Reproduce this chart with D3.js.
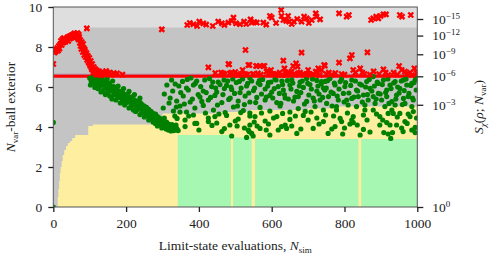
<!DOCTYPE html>
<html><head><meta charset="utf-8">
<script src="https://cdn.jsdelivr.net/npm/d3@7"></script>
<style>
body{margin:0;background:#fff;}
svg text{font-family:"Liberation Serif","Times New Roman",serif;fill:#222;}
</style></head>
<body><svg id="chart" width="490" height="258"></svg>
<script>
// ---- axis data ----
const xTicks = [0, 200, 400, 600, 800, 1000];
const yTicks = [0, 2, 4, 6, 8, 10];
const rightTickExps = [0, -3, -6, -9, -12, -15];
const nVar = 8;            // dimension of the chi distribution
const thresholdExp = -6;   // red threshold line at S = 1e-6

// ---- background regions ----
const grayTopN = [0, 5, 15, 25, 40, 55, 70, 92, 1000];
const grayTopV = [7.95, 8.05, 8.3, 8.45, 8.6, 8.72, 8.8, 8.98, 8.98];
const yellowN = [0, 11, 12, 14, 16, 18, 20, 23, 26, 30, 35, 40, 46, 52, 60, 96, 109, 300, 450, 540, 700, 760, 1000];
const yellowTop = [0, 0, 0.5, 0.9, 1.3, 1.7, 2.0, 2.3, 2.6, 2.85, 3.05, 3.2, 3.3, 3.45, 3.6, 4.05, 4.13, 4.68, 4.75, 4.85, 4.92, 5.02, 5.02];
const greenStart = [342, 494, 554, 846];
const greenEnd = [488, 545, 838, 1000];
const greenTop = [3.6, 3.48, 3.4, 3.4];

// ---- samples: failures (red) ----
const redN = [0,1,3,5,7,9,11,13,15,17,19,21,23,25,27,29,31,33,35,37,39,41,43,45,47,49,51,53,55,57,59,61,63,65,67,69,71,73,75,77,79,81,83,85,87,89,91,92,93,95,97,99,101,103,105,107,109,111,113,115,117,120,123,126,129,132,136,140,145,150,155,160,166,
 298,368,385,401,412,438,453,463,481,495,502,513,524,542,545,559,577,595,600,626,627,632,645,648,661,682,689,696,710,721,723,733,785,806,812,873,879,887,893,899,907,914,952,958,982,
 426,461,483,490,505,528,539,548,557,568,580,588,593,603,627,632,635,639,650,661,667,671,682,696,721,728,737,744,746,757,785,792,815,820,824,843,849,863,907,913,950,957,966,980,992,
 467,485,495,508,527,550,586,595,605,618,641,650,673,696,714,724,481,536,559,577,659];
const redV = [7.15,7.80,7.72,7.90,7.78,7.85,7.95,7.82,8.05,7.92,8.15,8.30,8.10,8.38,8.22,8.45,8.32,8.25,8.40,8.35,8.48,8.30,8.52,8.42,8.55,8.45,8.60,8.50,8.62,8.55,8.48,8.60,8.52,8.58,8.45,8.38,8.50,8.20,8.05,7.90,8.10,7.75,7.95,7.60,7.80,7.50,7.70,8.93,7.35,7.55,7.25,7.45,7.10,7.30,6.95,7.15,6.85,7.00,6.75,6.90,6.70,6.82,6.65,6.78,6.70,6.62,6.75,6.68,6.80,6.65,6.72,6.62,6.70,
 8.88,9.10,9.14,9.27,9.18,9.05,9.27,9.18,9.22,9.47,9.18,9.14,9.27,9.38,9.22,9.22,9.22,9.55,9.47,9.85,9.55,9.35,9.55,9.27,9.27,9.27,9.52,9.43,9.35,9.68,9.52,9.38,9.68,9.52,9.60,9.35,9.43,9.52,9.43,9.55,9.63,9.63,9.60,9.52,9.60,
 6.98,6.72,7.13,6.72,6.65,7.85,7.10,6.65,7.05,7.05,7.05,6.80,6.72,6.65,6.60,7.32,6.93,6.72,6.65,6.65,7.18,7.02,7.72,6.65,6.77,6.93,6.85,7.10,7.07,6.72,7.22,6.65,7.43,7.60,6.85,6.93,6.72,7.73,6.88,6.72,7.05,6.85,6.77,6.72,6.93,
 6.68,6.68,6.60,6.60,6.65,6.65,6.77,6.68,6.65,6.60,6.60,6.65,6.68,6.65,6.65,6.72,7.15,7.10,7.05,7.05,7.05];
const redN2 = [58,62,66,70,74,78,82,86,90,94,98,102,106,110,114,118,122,128,134,142,148,
 175,190,445,470,500,515,520,533,562,570,598,610,622,645,655,664,678,690,700,705,732,750,765,775,800,830,855,870,880,895,920,935,945,970,985,998,
 375,395,420,470,490,530,552,585,612,640,655,670,702];
const redV2 = [8.68,8.65,8.70,8.62,8.35,8.25,8.15,7.88,7.62,7.45,7.20,7.05,6.88,6.72,6.82,6.62,6.75,6.60,6.68,6.62,6.72,
 6.68,6.62,6.70,6.62,6.75,6.62,6.85,6.62,6.68,6.62,6.85,6.62,6.72,6.68,6.78,6.62,6.72,6.62,6.85,6.62,6.60,6.65,6.62,6.70,6.62,6.72,6.65,6.62,6.78,6.65,6.60,6.72,6.62,6.65,6.60,6.70,
 9.20,9.05,9.12,9.10,9.30,9.15,9.25,9.12,9.20,9.30,9.15,9.40,9.20];

// ---- samples: safe (green) ----
const greenN = [0,0,
 100,104,108,112,115,118,121,124,127,130,133,136,139,142,145,148,151,154,157,160,163,166,169,172,175,178,181,184,187,190,193,196,199,202,205,208,211,214,217,220,223,226,229,232,235,238,241,244,247,250,253,256,259,262,265,268,271,274,277,280,283,286,289,292,295,298,301,304,307,310,313,316,319,322,325,328,331,334,337,340,
 368,394,429,453,469,493,511,540,566,591,609,628,655,678,696,724,747,
 366,385,412,435,449,476,490,513,531,550,568,582,600,618,632,650,669,687,705,724,742,
 321,339,357,376,403,426,444,463,486,508,527,540,559,582,595,614,637,660,673,696,714,733,
 302,330,348,366,389,412,440,472,495,522,540,568,595,623,650,673,692,719,742,
 334,362,385,426,449,476,508,540,582,614,650,687,724,
 737,760,774,788,801,820,833,847,861,870,879,893,907,916,925,939,952,962,971,985,994,
 746,756,769,783,797,806,820,838,852,865,879,893,902,916,930,943,962,975,989,
 751,778,810,833,856,884,911,939,966,985,
 778,788,820,824,852,856,879,897,920,934,952,966,980,989,930,
 362,394,426,463,485,490,505,531,538,549,560,568,591,595,618,627,637,641,669,714,742,755,
 340,389,444,536,545,540,554,
 774,792,795,815,824,843,852,897,916,908,920,927,932,943,961,972,994,994];
const greenV = [4.23,0.0,
 6.45,6.30,6.48,6.38,6.22,6.42,6.15,6.35,6.05,6.28,6.45,6.10,6.32,5.95,6.20,6.40,5.88,6.12,5.80,6.02,6.30,5.75,5.95,5.62,5.88,6.05,5.55,5.78,5.45,5.70,5.92,5.40,5.62,5.30,5.55,5.78,5.25,5.48,5.15,5.40,5.62,5.08,5.30,4.98,5.22,5.45,4.92,5.12,4.82,5.05,4.75,4.98,4.65,4.88,4.55,4.78,4.45,4.68,4.38,4.60,4.30,4.52,4.22,4.45,4.15,4.35,4.05,4.28,3.98,4.20,3.92,4.12,3.88,4.05,3.85,4.00,3.82,3.95,4.10,3.90,
 6.38,6.30,6.42,6.25,6.35,6.40,6.28,6.45,6.32,6.22,6.40,6.30,6.36,6.25,6.42,6.33,6.28,
 5.95,6.10,5.80,6.02,5.75,6.08,5.88,5.72,6.05,5.82,6.12,5.90,5.75,6.02,5.85,6.10,5.78,5.98,6.12,5.80,5.95,
 5.45,5.30,5.55,5.25,5.50,5.35,5.58,5.22,5.45,5.30,5.55,5.25,5.48,5.35,5.58,5.22,5.45,5.30,5.52,5.28,5.45,5.35,
 4.95,4.80,5.05,4.75,4.95,5.08,4.85,4.72,5.00,4.82,4.70,4.98,4.80,5.05,4.75,4.92,4.78,5.02,4.85,
 4.55,4.35,4.60,4.45,4.20,4.58,4.40,4.55,4.30,4.52,4.38,4.58,4.45,
 6.27,6.43,6.10,6.27,6.02,6.35,5.85,6.10,6.27,5.93,6.52,6.18,6.35,5.85,6.10,6.27,5.93,6.35,6.10,6.18,6.35,
 5.85,5.52,5.68,5.35,5.68,5.35,5.43,5.52,5.60,5.35,5.52,5.68,5.35,5.52,5.27,5.60,5.43,5.52,5.35,
 5.18,5.02,5.10,5.02,5.10,5.18,5.02,5.10,5.18,5.02,
 4.85,4.43,4.35,4.52,4.60,4.85,4.85,4.52,4.68,4.68,4.68,4.27,4.52,4.77,4.85,
 4.02,4.18,4.27,3.77,4.10,3.55,4.05,3.48,3.77,3.55,4.05,3.93,4.15,3.60,3.85,4.02,4.10,3.93,3.68,3.93,4.27,3.68,
 4.43,4.18,4.52,3.85,3.68,4.10,4.52,
 4.02,4.27,3.65,4.15,4.22,3.60,3.88,4.10,4.22,3.72,3.65,3.43,3.72,4.10,3.77,4.18,3.98,3.72];
// additional samples inside the descending band
const bandN2 = [102,107,109,114,116,121,122,127,130,131,136,137,142,143,148,149,154,155,160,161,166,167,172,173,178,179,184,185,190,191,196,197,202,203,208,209,214,215,220,221,226,227,232,233,238,239,244,245,250,251,256,257,262,263,268,269,274,275,280,281,286,287,292,293,298,299,304,305,310,311,316,317,322,323,326,329,332,335,338,343];
const bandV2 = [6.10,6.20,6.48,5.98,6.12,6.40,5.92,6.00,6.35,5.75,6.20,5.82,6.25,5.62,6.08,5.70,6.18,5.55,5.92,5.40,6.02,5.60,5.35,5.85,5.48,5.78,5.20,5.62,5.30,5.70,5.10,5.55,5.22,5.60,4.95,5.38,5.05,5.50,4.85,5.25,4.78,5.30,4.88,5.15,4.62,5.22,4.72,5.05,4.50,4.95,4.58,4.90,4.35,4.82,4.42,4.75,4.25,4.62,4.18,4.65,4.05,4.48,4.12,4.40,3.95,4.32,4.00,4.45,3.90,4.25,3.85,4.15,3.95,3.80,4.12,3.92,4.02,3.85,3.95,3.82];
// more scattered safe samples
const scatN = [305,312,318,325,328,335,338,345,350,355,360,371,378,382,390,398,405,408,416,420,432,438,446,451,458,466,470,479,482,488,498,503,506,516,520,525,534,537,545,553,556,563,572,575,585,589,598,603,607,612,621,625,630,635,643,646,653,658,664,676,680,684,690,699,702,709,712,717,727,730,736,740,750,754,763,766,772,780,785,792,799,803,812,817,826,830,836,842,849,858,863,868,875,882,887,890,898,904,913,919,922,928,935,941,946,950,956,959,964,969,977,982,987,991,997,999,
 348,372,400,418,436,455,470,500,515,525,552,572,585,605,630,655,665,680,700,708,730,748,765,770,800,808,835,862,870,888,905,925,945,957,975,985,998];
const scatV = [5.65,6.10,5.20,6.35,5.80,6.15,5.00,6.05,5.72,6.28,5.15,5.85,6.45,5.40,6.18,5.62,6.02,5.28,6.35,5.72,5.48,6.25,5.95,5.10,6.12,5.62,5.92,6.30,5.38,6.00,5.68,6.22,5.05,5.95,6.40,5.12,6.18,5.70,6.30,5.95,5.22,6.20,5.65,6.38,5.50,6.05,6.25,5.45,5.92,6.35,5.68,5.18,6.12,5.62,6.32,5.40,5.90,6.20,5.50,6.05,5.72,6.30,5.15,6.18,5.60,5.90,6.40,5.30,6.05,5.65,6.15,5.48,5.95,6.32,5.75,5.05,6.20,5.55,5.90,6.40,5.25,6.22,5.70,6.08,5.50,6.30,5.80,6.15,5.25,6.00,5.62,6.38,5.80,6.05,5.40,6.25,5.65,6.12,5.72,6.40,5.18,5.92,6.20,5.40,6.00,5.70,6.30,5.12,5.82,6.40,5.68,6.08,5.45,6.22,5.85,6.42,
 4.75,4.55,3.85,4.70,4.08,4.65,3.92,4.30,4.72,3.95,4.25,4.70,3.85,4.45,4.68,4.05,4.55,3.90,4.35,4.75,4.15,4.60,3.90,4.55,3.95,4.70,4.10,4.35,3.75,4.65,4.35,4.10,4.50,3.95,4.65,3.85,4.45];

// ---- chart ----
const svg = d3.select("#chart");
const m = {l: 53.3, r: 417.3, t: 7, b: 207};
const x = d3.scaleLinear().domain([0, 1000]).range([m.l, m.r]);
const y = d3.scaleLinear().domain([0, 10]).range([m.b, m.t]);

// chi survival for right axis
function chiSurv(rho, k) {
  const h = rho * rho / 2;
  let term = 1, sum = 1;
  for (let j = 1; j < k / 2; j++) { term *= h / j; sum += term; }
  return Math.exp(-h) * sum;
}
function chiInv(p, k) {
  let lo = 0, hi = 12;
  for (let i = 0; i < 80; i++) {
    const mid = (lo + hi) / 2;
    if (chiSurv(mid, k) > p) lo = mid; else hi = mid;
  }
  return (lo + hi) / 2;
}

const defs = svg.append("defs");
defs.append("clipPath").attr("id", "clip").append("rect")
  .attr("x", m.l).attr("y", m.t).attr("width", m.r - m.l).attr("height", m.b - m.t);
const plot = svg.append("g").attr("clip-path", "url(#clip)");

plot.append("rect").attr("x", m.l).attr("y", m.t).attr("width", m.r - m.l).attr("height", m.b - m.t)
  .attr("fill", "#dedede");
const grayData = grayTopN.map((n, i) => ({n, v: grayTopV[i]}));
plot.append("path").datum(grayData)
  .attr("d", d3.area().curve(d3.curveStepAfter).x(d => x(d.n)).y0(y(0)).y1(d => y(d.v)))
  .attr("fill", "#c4c4c4");
const yellowData = yellowN.map((n, i) => ({n, v: yellowTop[i]}));
plot.append("path").datum(yellowData)
  .attr("d", d3.area().curve(d3.curveStepAfter).x(d => x(d.n)).y0(y(0)).y1(d => y(d.v)))
  .attr("fill", "#fdeea0");
plot.selectAll("rect.green").data(greenStart.map((s, i) => ({s, e: greenEnd[i], t: greenTop[i]})))
  .enter().append("rect").attr("class", "green")
  .attr("x", d => x(d.s)).attr("width", d => x(d.e) - x(d.s))
  .attr("y", d => y(d.t)).attr("height", d => y(0) - y(d.t))
  .attr("fill", "#a6f7b2");

// threshold line
const thr = chiInv(Math.pow(10, thresholdExp), nVar);
plot.append("line").attr("x1", m.l).attr("x2", m.r).attr("y1", y(thr) - 2).attr("y2", y(thr) - 2)
  .attr("stroke", "#b07a9a").attr("stroke-width", 1);
plot.append("line").attr("x1", m.l).attr("x2", m.r).attr("y1", y(thr)).attr("y2", y(thr))
  .attr("stroke", "#ff0000").attr("stroke-width", 3);

// green points
const safe = greenN.map((n, i) => ({n, v: greenV[i]}))
  .concat(bandN2.map((n, i) => ({n, v: bandV2[i]})))
  .concat(scatN.map((n, i) => ({n, v: scatV[i]})));
plot.selectAll("circle.safe").data(safe)
  .enter().append("circle").attr("class", "safe")
  .attr("cx", d => x(d.n)).attr("cy", d => y(d.v)).attr("r", 2.6).attr("fill", "#008000");
// red X markers
const fail = redN.map((n, i) => ({n, v: redV[i]})).concat(redN2.map((n, i) => ({n, v: redV2[i]})));
const s = 2.5;
plot.selectAll("path.fail").data(fail)
  .enter().append("path").attr("class", "fail")
  .attr("transform", d => `translate(${x(d.n)},${y(d.v)})`)
  .attr("d", `M${-s},${-s}L${s},${s}M${-s},${s}L${s},${-s}`)
  .attr("stroke", "#ff0000").attr("stroke-width", 2.3);

// frame
svg.append("rect").attr("x", m.l).attr("y", m.t).attr("width", m.r - m.l).attr("height", m.b - m.t)
  .attr("fill", "none").attr("stroke", "#555").attr("stroke-width", 1);

// axes
const fs = 13.5;
const xAxis = svg.append("g").attr("transform", `translate(0,${m.b})`)
  .call(d3.axisBottom(x).tickValues(xTicks).tickSize(5).tickPadding(6).tickFormat(d3.format("d")));
const yAxis = svg.append("g").attr("transform", `translate(${m.l},0)`)
  .call(d3.axisLeft(y).tickValues(yTicks).tickSize(5).tickPadding(6).tickFormat(d3.format("d")));
const rAxis = svg.append("g").attr("transform", `translate(${m.r},0)`)
  .call(d3.axisRight(y).tickValues(rightTickExps.map(e => chiInv(Math.pow(10, e), nVar))).tickSize(6).tickPadding(8).tickFormat(""));
[xAxis, yAxis, rAxis].forEach(g => {
  g.select(".domain").remove();
  g.selectAll(".tick line").attr("stroke", "#222").attr("stroke-width", 1.3);
  g.selectAll("text").attr("font-size", fs).attr("font-family", "Liberation Serif").attr("fill", "#222");
});
rAxis.selectAll(".tick").each(function(d, i) {
  const t = d3.select(this).append("text").attr("x", 15).attr("dy", "0.32em")
    .attr("font-size", fs).attr("text-anchor", "start").attr("fill", "#222");
  t.append("tspan").text("10");
  t.append("tspan").attr("font-size", 9).attr("dy", "-0.55em").text(rightTickExps[i] === 0 ? "0" : "\u2212" + Math.abs(rightTickExps[i]));
});

// axis labels
const xl = svg.append("text").attr("x", (m.l + m.r) / 2).attr("y", 250).attr("text-anchor", "middle").attr("font-size", fs);
xl.append("tspan").text("Limit-state evaluations, ");
xl.append("tspan").attr("font-style", "italic").text("N");
xl.append("tspan").attr("font-size", 9).attr("dy", 3).text("sim");

const yl = svg.append("text").attr("transform", `translate(15,${(m.t + m.b) / 2}) rotate(-90)`)
  .attr("text-anchor", "middle").attr("font-size", fs);
yl.append("tspan").attr("font-style", "italic").text("N");
yl.append("tspan").attr("font-size", 9).attr("dy", 3).text("var");
yl.append("tspan").attr("dy", -3).text("-ball exterior");

const rl = svg.append("text").attr("transform", `translate(483,${(m.t + m.b) / 2}) rotate(-90)`)
  .attr("text-anchor", "middle").attr("font-size", fs);
rl.append("tspan").attr("font-style", "italic").text("S");
rl.append("tspan").attr("font-style", "italic").attr("font-size", 9).attr("dy", 3).text("\u03C7");
rl.append("tspan").attr("dy", -3).text("(");
rl.append("tspan").attr("font-style", "italic").text("\u03C1");
rl.append("tspan").text("; ");
rl.append("tspan").attr("font-style", "italic").text("N");
rl.append("tspan").attr("font-size", 9).attr("dy", 3).text("var");
rl.append("tspan").attr("dy", -3).text(")");
</script></body></html>
